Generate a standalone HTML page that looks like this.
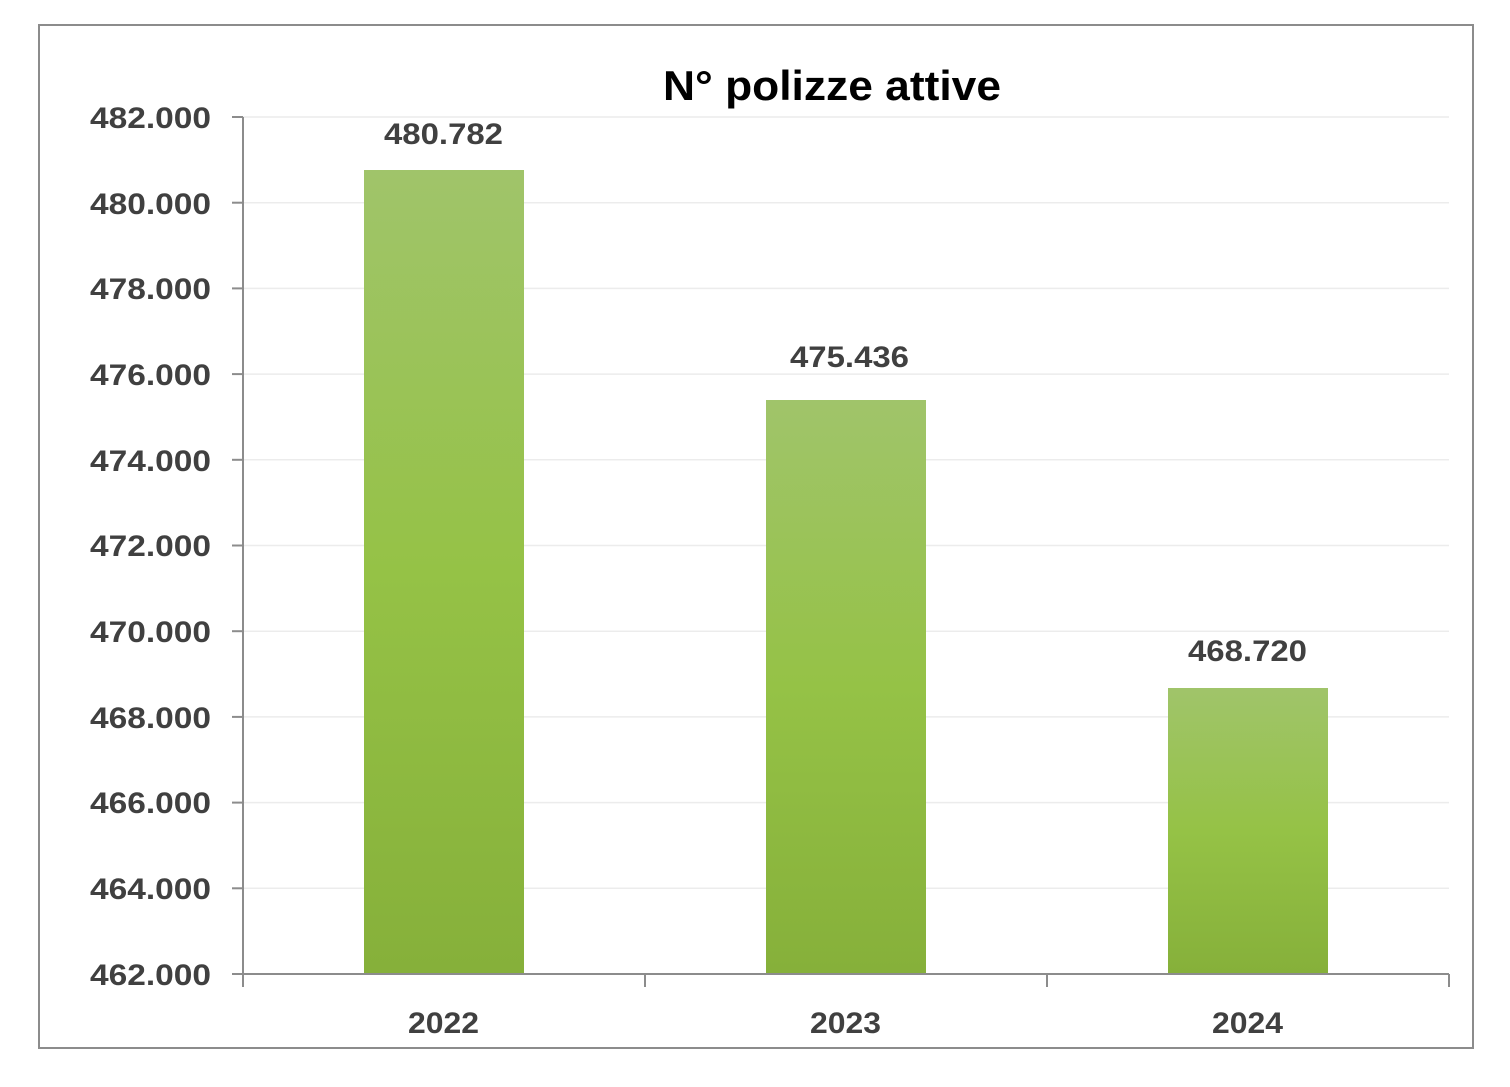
<!DOCTYPE html>
<html><head><style>html,body{margin:0;padding:0;background:#fff}</style></head>
<body>
<svg width="1510" height="1082" xmlns="http://www.w3.org/2000/svg" font-family="'Liberation Sans', sans-serif">
<defs>
<linearGradient id="g" x1="0" y1="0" x2="0" y2="1">
<stop offset="0" stop-color="#a0c46a"/>
<stop offset="0.5" stop-color="#95c246"/>
<stop offset="1" stop-color="#86b03a"/>
</linearGradient>
</defs>
<rect x="0" y="0" width="1510" height="1082" fill="#fff"/>
<rect x="39" y="25" width="1434" height="1023" fill="none" stroke="#8c8c8c" stroke-width="2"/>
<g stroke="#ececec" stroke-width="1.5">
<line x1="243" x2="1449" y1="117" y2="117"/>
<line x1="243" x2="1449" y1="202.7" y2="202.7"/>
<line x1="243" x2="1449" y1="288.4" y2="288.4"/>
<line x1="243" x2="1449" y1="374.1" y2="374.1"/>
<line x1="243" x2="1449" y1="459.8" y2="459.8"/>
<line x1="243" x2="1449" y1="545.5" y2="545.5"/>
<line x1="243" x2="1449" y1="631.2" y2="631.2"/>
<line x1="243" x2="1449" y1="716.9" y2="716.9"/>
<line x1="243" x2="1449" y1="802.6" y2="802.6"/>
<line x1="243" x2="1449" y1="888.3" y2="888.3"/>
</g>
<rect x="364" y="170" width="160" height="804" fill="url(#g)"/>
<rect x="766" y="400" width="160" height="574" fill="url(#g)"/>
<rect x="1168" y="688" width="160" height="286" fill="url(#g)"/>
<g stroke="#8c8c8c" stroke-width="2">
<line x1="243" x2="243" y1="117" y2="987"/>
<line x1="232" x2="1449" y1="974" y2="974"/>
<line x1="645" x2="645" y1="974" y2="987"/>
<line x1="1047" x2="1047" y1="974" y2="987"/>
<line x1="1449" x2="1449" y1="974" y2="987"/>
<line x1="232" x2="243" y1="117" y2="117"/>
<line x1="232" x2="243" y1="202.7" y2="202.7"/>
<line x1="232" x2="243" y1="288.4" y2="288.4"/>
<line x1="232" x2="243" y1="374.1" y2="374.1"/>
<line x1="232" x2="243" y1="459.8" y2="459.8"/>
<line x1="232" x2="243" y1="545.5" y2="545.5"/>
<line x1="232" x2="243" y1="631.2" y2="631.2"/>
<line x1="232" x2="243" y1="716.9" y2="716.9"/>
<line x1="232" x2="243" y1="802.6" y2="802.6"/>
<line x1="232" x2="243" y1="888.3" y2="888.3"/>
</g>
<g fill="#404040" font-size="30" font-weight="bold" text-anchor="end">
<text x="211" y="128" textLength="121" lengthAdjust="spacingAndGlyphs">482.000</text>
<text x="211" y="214" textLength="121" lengthAdjust="spacingAndGlyphs">480.000</text>
<text x="211" y="299" textLength="121" lengthAdjust="spacingAndGlyphs">478.000</text>
<text x="211" y="385" textLength="121" lengthAdjust="spacingAndGlyphs">476.000</text>
<text x="211" y="471" textLength="121" lengthAdjust="spacingAndGlyphs">474.000</text>
<text x="211" y="556" textLength="121" lengthAdjust="spacingAndGlyphs">472.000</text>
<text x="211" y="642" textLength="121" lengthAdjust="spacingAndGlyphs">470.000</text>
<text x="211" y="728" textLength="121" lengthAdjust="spacingAndGlyphs">468.000</text>
<text x="211" y="813" textLength="121" lengthAdjust="spacingAndGlyphs">466.000</text>
<text x="211" y="899" textLength="121" lengthAdjust="spacingAndGlyphs">464.000</text>
<text x="211" y="985" textLength="121" lengthAdjust="spacingAndGlyphs">462.000</text>
</g>
<g fill="#404040" font-size="30" font-weight="bold">
<text x="408" y="1033" textLength="71" lengthAdjust="spacingAndGlyphs">2022</text>
<text x="810" y="1033" textLength="71" lengthAdjust="spacingAndGlyphs">2023</text>
<text x="1212" y="1033" textLength="71" lengthAdjust="spacingAndGlyphs">2024</text>
<text x="384" y="144" textLength="119" lengthAdjust="spacingAndGlyphs">480.782</text>
<text x="790" y="367" textLength="119" lengthAdjust="spacingAndGlyphs">475.436</text>
<text x="1188" y="661" textLength="119" lengthAdjust="spacingAndGlyphs">468.720</text>
</g>
<text x="663" y="100" font-size="42" font-weight="bold" fill="#000" textLength="338" lengthAdjust="spacingAndGlyphs">N° polizze attive</text>
</svg>
</body></html>
